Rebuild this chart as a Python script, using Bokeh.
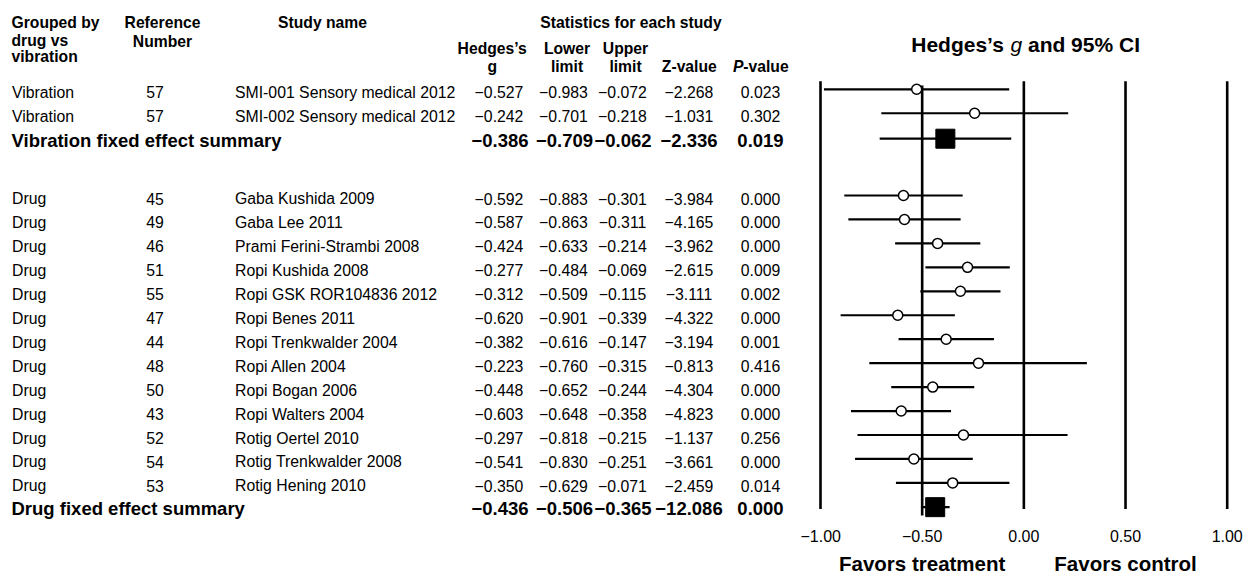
from bokeh.plotting import figure
from bokeh.models import ColumnDataSource, Range1d, FixedTicker, CustomJSTickFormatter, LinearAxis
from bokeh.layouts import row
from bokeh.embed import file_html
from bokeh.resources import INLINE
from bokeh.core.properties import value

# ---------------- data ----------------
groups = ["Vibration", "Vibration"] + ["Drug"] * 13
ref_numbers = ["57", "57", "45", "49", "46", "51", "55", "47", "44", "48", "50", "43", "52", "54", "53"]
study_names = [
    "SMI-001 Sensory medical 2012", "SMI-002 Sensory medical 2012",
    "Gaba Kushida 2009", "Gaba Lee 2011", "Prami Ferini-Strambi 2008",
    "Ropi Kushida 2008", "Ropi GSK ROR104836 2012", "Ropi Benes 2011",
    "Ropi Trenkwalder 2004", "Ropi Allen 2004", "Ropi Bogan 2006",
    "Ropi Walters 2004", "Rotig Oertel 2010", "Rotig Trenkwalder 2008",
    "Rotig Hening 2010",
]
hedges_g = [-0.527, -0.242, -0.592, -0.587, -0.424, -0.277, -0.312, -0.620,
            -0.382, -0.223, -0.448, -0.603, -0.297, -0.541, -0.350]
lower_limit = [-0.983, -0.701, -0.883, -0.863, -0.633, -0.484, -0.509, -0.901,
               -0.616, -0.760, -0.652, -0.648, -0.818, -0.830, -0.629]
upper_limit = [-0.072, -0.218, -0.301, -0.311, -0.214, -0.069, -0.115, -0.339,
               -0.147, -0.315, -0.244, -0.358, -0.215, -0.251, -0.071]
z_value = [-2.268, -1.031, -3.984, -4.165, -3.962, -2.615, -3.111, -4.322,
           -3.194, -0.813, -4.304, -4.823, -1.137, -3.661, -2.459]
p_value = [0.023, 0.302, 0.000, 0.000, 0.000, 0.009, 0.002, 0.000,
           0.001, 0.416, 0.000, 0.000, 0.256, 0.000, 0.014]
# confidence intervals as drawn in the forest plot
ci_low_plot = [-0.983, -0.701, -0.883, -0.863, -0.633, -0.484, -0.509, -0.901,
               -0.616, -0.760, -0.652, -0.850, -0.818, -0.830, -0.629]
ci_high_plot = [-0.072, 0.218, -0.301, -0.311, -0.214, -0.069, -0.115, -0.339,
                -0.147, 0.310, -0.244, -0.358, 0.215, -0.251, -0.071]

summary_labels = ["Vibration fixed effect summary", "Drug fixed effect summary"]
summary_g = [-0.386, -0.436]
summary_lower = [-0.709, -0.506]
summary_upper = [-0.062, -0.365]
summary_z = [-2.336, -12.086]
summary_p = [0.019, 0.000]

x_ticks = [-1.0, -0.5, 0.0, 0.5, 1.0]
favor_labels = ["Favors treatment", "Favors control"]
favor_pos = [-0.5, 0.5]

# ---------------- layout helpers ----------------
FONT = value("Liberation Sans")
W, H = 1247, 579
BOTTOM = 60                     # space below the frames (axis area)
STEP = 23.95
n_vib = groups.count("Vibration")
n_drug = groups.count("Drug")
study_y = [91.8 + STEP * i for i in range(n_vib)] + [198.0 + STEP * i for i in range(n_drug)]
summary_y = [91.8 + STEP * n_vib, 198.0 + STEP * n_drug - 1.2]

yr = Range1d(H - BOTTOM, 0)     # shared vertical range (pixel rows)


def fmt(v):
    return f"{v:.3f}".replace("-", "\u2212")


# ---------------- table figure ----------------
TW = 800
t = figure(width=TW, height=H, x_range=Range1d(0, TW), y_range=yr,
           output_backend="svg", toolbar_location=None, min_border=0,
           min_border_bottom=BOTTOM, x_axis_location=None, y_axis_location=None)
t.grid.visible = False
t.outline_line_color = None


def put(fig, xs, ys, texts, align="left", size="15.8px", style="normal", **kw):
    src = ColumnDataSource(dict(x=xs, y=ys, text=texts))
    fig.text(x="x", y="y", text="text", source=src, text_font=FONT,
             text_font_size=size, text_font_style=style, text_align=align,
             text_baseline="middle", text_color="black", **kw)


# headers
HB = "15.7px"
put(t, [11, 11, 11], [21.7, 39.5, 56], ["Grouped by", "drug vs", "vibration"], size=HB, style="bold")
put(t, [162, 162], [21.5, 40.5], ["Reference", "Number"], align="center", size=HB, style="bold")
put(t, [322], [21.7], ["Study name"], align="center", size=HB, style="bold")
put(t, [630.5], [21.7], ["Statistics for each study"], align="center", size=HB, style="bold")
put(t, [491.7, 566.5, 625], [48, 48, 48], ["Hedges\u2019s", "Lower", "Upper"], align="center", size=HB, style="bold")
put(t, [491.7, 566.5, 625, 688.8], [66, 66, 66, 66], ["g", "limit", "limit", "Z-value"], align="center", size=HB, style="bold")
put(t, [732.5], [66], ["P"], size=HB, style="bold italic")
put(t, [742.8], [66], ["-value"], size=HB, style="bold")

# study rows
put(t, [11.5] * len(groups), study_y, groups)
put(t, [154.5] * len(groups), study_y, ref_numbers, align="center")
put(t, [234.5] * len(groups), study_y, study_names)
cols = [(498.5, hedges_g), (563, lower_limit), (622, upper_limit), (688.5, z_value)]
for cx, vals in cols:
    put(t, [cx] * len(vals), study_y, [fmt(v) for v in vals], align="center")
put(t, [760] * len(p_value), study_y, [f"{v:.3f}" for v in p_value], align="center")

# summary rows
SB = "18.5px"
put(t, [11, 11], summary_y, summary_labels, size=SB, style="bold")
scols = [(499.5, summary_g), (564, summary_lower), (622.5, summary_upper), (688.5, summary_z)]
for cx, vals in scols:
    put(t, [cx] * len(vals), summary_y, [fmt(v) for v in vals], align="center", size=SB, style="bold")
put(t, [760, 760], summary_y, [f"{v:.3f}" for v in summary_p], align="center", size=SB, style="bold")

# ---------------- forest figure ----------------
FW = W - TW
X0, XS = 1023.35, 203.35        # page x of 0.00 and pixels per unit
f = figure(width=FW, height=H,
           x_range=Range1d((TW - X0) / XS, (W - X0) / XS), y_range=yr,
           output_backend="svg", toolbar_location=None, min_border=0,
           min_border_bottom=BOTTOM, y_axis_location=None)
f.grid.visible = False
f.outline_line_color = None


def style_axis(a, size, standoff, fstyle="normal"):
    a.axis_line_color = None
    a.major_tick_line_color = None
    a.minor_tick_line_color = None
    a.major_tick_out = 0
    a.major_tick_in = 0
    a.minor_tick_out = 0
    a.minor_tick_in = 0
    a.major_label_standoff = standoff
    a.major_label_text_font = "Liberation Sans"
    a.major_label_text_font_size = size
    a.major_label_text_font_style = fstyle
    a.major_label_text_color = "black"


ax = f.xaxis[0]
ax.ticker = FixedTicker(ticks=x_ticks)
ax.formatter = CustomJSTickFormatter(code="return tick.toFixed(2).replace('-', '\u2212');")
style_axis(ax, "16px", 10)

ax2 = LinearAxis(ticker=FixedTicker(ticks=favor_pos),
                 major_label_overrides=dict(zip(favor_pos, favor_labels)))
style_axis(ax2, "20.5px", 7, "bold")
f.add_layout(ax2, "below")

# vertical reference lines
tops = [85.0 if v == -0.5 else 80.7 for v in x_ticks]
bots = [515.0 if v == -0.5 else 508.5 for v in x_ticks]
f.segment(x0=x_ticks, y0=tops, x1=x_ticks, y1=bots, line_color="black", line_width=2.6)

# study CIs and points
fy = [y - 3 for y in study_y]
f.segment(x0=ci_low_plot, y0=fy, x1=ci_high_plot, y1=fy, line_color="black", line_width=2.2)
f.scatter(x=hedges_g, y=fy, size=10, marker="circle", fill_color="white",
          line_color="black", line_width=1.5)

# summaries
sy = [y - 1.5 for y in summary_y]
f.segment(x0=summary_lower, y0=sy, x1=summary_upper, y1=sy, line_color="black", line_width=2.2)
f.scatter(x=summary_g, y=sy, size=19, marker="square", fill_color="black", line_color="black")

# title with italic g
title_y = 43.7
for txt, off, style in [("Hedges\u2019s", -112.6, "bold"), ("g", -13.4, "italic"), ("and 95% CI", 4.1, "bold")]:
    f.text(x=[0.0], y=[title_y], text=[txt], x_offset=off, text_font=FONT,
           text_font_size="21px", text_font_style=style, text_align="left",
           text_baseline="middle", text_color="black")

layout = row(t, f)
open("out.html", "w").write(file_html(layout, INLINE))
